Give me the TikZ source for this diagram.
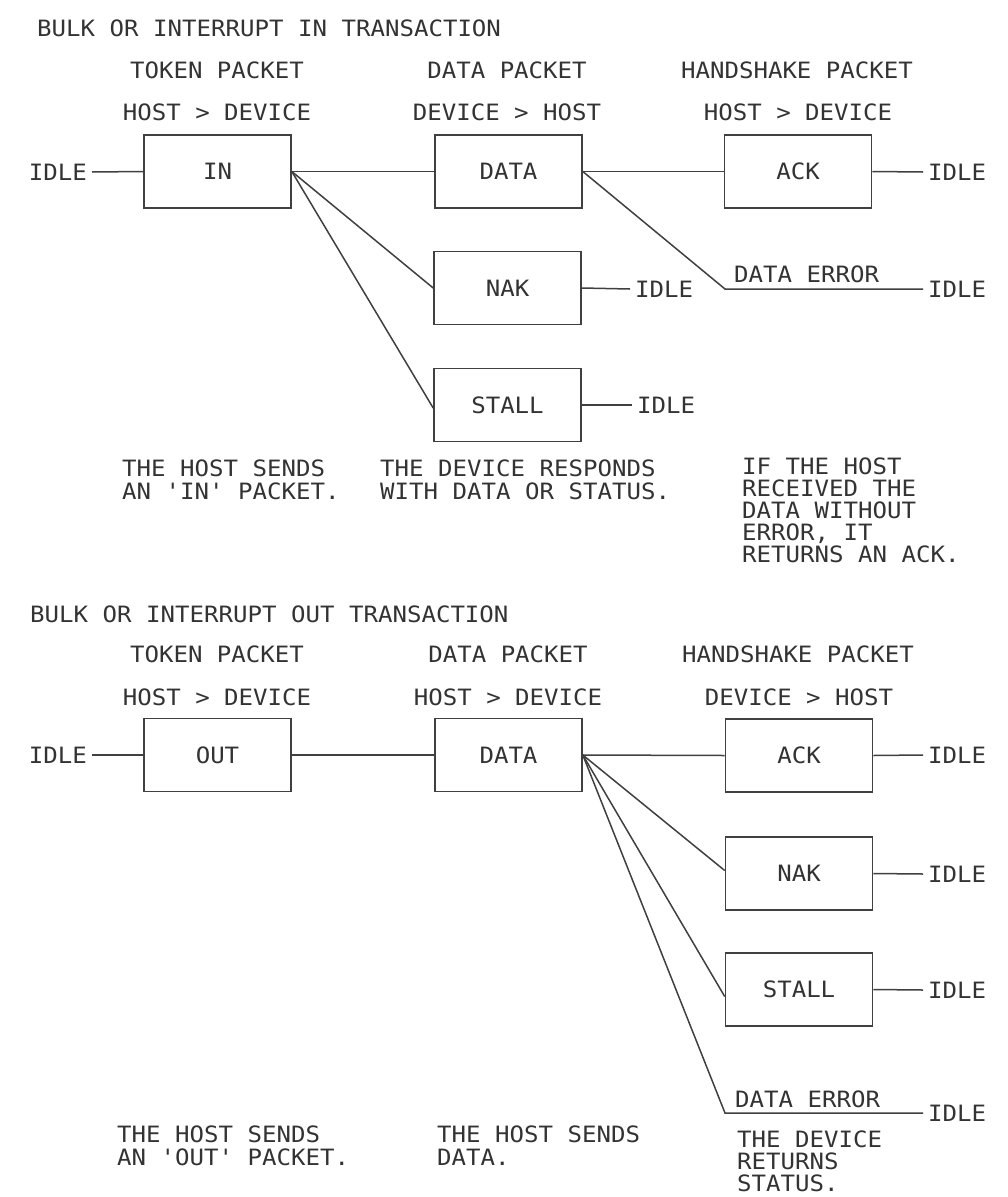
\documentclass[tikz,border=0pt]{standalone}
\usepackage{fontspec}
\setmonofont[FakeStretch=1.07]{DejaVu Sans Mono}
\begin{document}
\begin{tikzpicture}[x=1pt,y=-1pt,
  txt/.style={font=\ttfamily\fontsize{22.5}{22.5}\selectfont, text=black!80, inner sep=0pt},
  pkt/.style={draw=black!75, line width=1.6pt, minimum width=147pt, minimum height=73pt,
              inner sep=0pt, font=\ttfamily\fontsize{22.5}{22.5}\selectfont, text=black!80},
  wire/.style={draw=black!75, line width=1.5pt},
  idle/.style={txt, inner xsep=5pt},
  capt/.style={txt, align=left, anchor=north west},
  captb/.style={txt, align=left, anchor=north west, font=\ttfamily\fontsize{22.5}{21.8}\selectfont}]
\useasboundingbox[fill=white] (0,0) rectangle (1007,1197);

% ---------------- IN transaction ----------------
\node[txt,anchor=base west] (t1) at (37,36) {BULK OR INTERRUPT IN TRANSACTION};
\node[txt,anchor=base] (tok1) at (217,78) {TOKEN PACKET};
\node[txt,anchor=base] (hd1) at (217,120) {HOST > DEVICE};
\node[txt,anchor=base] (dp1) at (507,78) {DATA PACKET};
\node[txt,anchor=base] (dh1) at (507,120) {DEVICE > HOST};
\node[txt,anchor=base] (hs1) at (797,78) {HANDSHAKE PACKET};
\node[txt,anchor=base] (hd1b) at (798,120) {HOST > DEVICE};

\node[pkt] (in) at (217.5,171.5) {IN};
\node[pkt] (data1) at (508.5,171.5) {DATA};
\node[pkt] (ack1) at (798,171.5) {ACK};
\node[pkt] (nak1) at (507.5,288) {NAK};
\node[pkt] (stall1) at (507.5,405) {STALL};

\node[idle,anchor=east] (i1) at (92,172) {IDLE};
\node[idle,anchor=west] (i2) at (923,172) {IDLE};
\node[idle,anchor=west] (i3) at (630,289) {IDLE};
\node[idle,anchor=west] (i4) at (923,289) {IDLE};
\node[idle,anchor=west] (i5) at (632,405) {IDLE};
\coordinate (de1) at (725,289);
\node[txt,anchor=base west] (del1) at (734,282) {DATA ERROR};

\draw[wire] (i1.east) -- (in.west);
\draw[wire] (in.east) -- (data1.west);
\draw[wire] (in.east) -- (nak1.west);
\draw[wire] (in.east) -- ([yshift=-3pt]stall1.west);
\draw[wire] (data1.east) -- (ack1.west);
\draw[wire] (data1.east) -- (de1) -- (i4.west);
\draw[wire] (ack1.east) -- (i2.west);
\draw[wire] (nak1.east) -- (i3.west);
\draw[wire] (stall1.east) -- (i5.west);

\node[capt] (c1) at (122,460) {THE HOST SENDS\\AN 'IN' PACKET.};
\node[capt] (c2) at (380,460) {THE DEVICE RESPONDS\\WITH DATA OR STATUS.};
\node[captb] (c3) at (742,458) {IF THE HOST\\RECEIVED THE\\DATA WITHOUT\\ERROR, IT\\RETURNS AN ACK.};

% ---------------- OUT transaction ----------------
\node[txt,anchor=base west] (t2) at (30,622) {BULK OR INTERRUPT OUT TRANSACTION};
\node[txt,anchor=base] (tok2) at (217,662) {TOKEN PACKET};
\node[txt,anchor=base] (hd2) at (217,705) {HOST > DEVICE};
\node[txt,anchor=base] (dp2) at (508,662) {DATA PACKET};
\node[txt,anchor=base] (dh2) at (508,705) {HOST > DEVICE};
\node[txt,anchor=base] (hs2) at (798,662) {HANDSHAKE PACKET};
\node[txt,anchor=base] (hd2b) at (799,705) {DEVICE > HOST};

\node[pkt] (out) at (217.5,755) {OUT};
\node[pkt] (data2) at (508.5,755) {DATA};
\node[pkt] (ack2) at (799,755.5) {ACK};
\node[pkt] (nak2) at (799,873.5) {NAK};
\node[pkt] (stall2) at (799,989.5) {STALL};

\node[idle,anchor=east] (j1) at (92,755) {IDLE};
\node[idle,anchor=west] (j2) at (923,755) {IDLE};
\node[idle,anchor=west] (j3) at (923,874) {IDLE};
\node[idle,anchor=west] (j4) at (923,990) {IDLE};
\node[idle,anchor=west] (j5) at (923,1113) {IDLE};
\coordinate (de2) at (725,1113);
\node[txt,anchor=base west] (del2) at (735,1107) {DATA ERROR};

\draw[wire] (j1.east) -- (out.west);
\draw[wire] (out.east) -- (data2.west);
\draw[wire] (data2.east) -- (ack2.west);
\draw[wire] (data2.east) -- ([yshift=3pt]nak2.west);
\draw[wire] (data2.east) -- ([yshift=-7pt]stall2.west);
\draw[wire] (data2.east) -- (de2) -- (j5.west);
\draw[wire] (ack2.east) -- (j2.west);
\draw[wire] (nak2.east) -- (j3.west);
\draw[wire] (stall2.east) -- (j4.west);

\node[capt] (d1) at (117,1126) {THE HOST SENDS\\AN 'OUT' PACKET.};
\node[capt] (d2) at (437,1126) {THE HOST SENDS\\DATA.};
\node[captb] (d3) at (737,1131) {THE DEVICE\\RETURNS\\STATUS.};
\end{tikzpicture}
\end{document}
